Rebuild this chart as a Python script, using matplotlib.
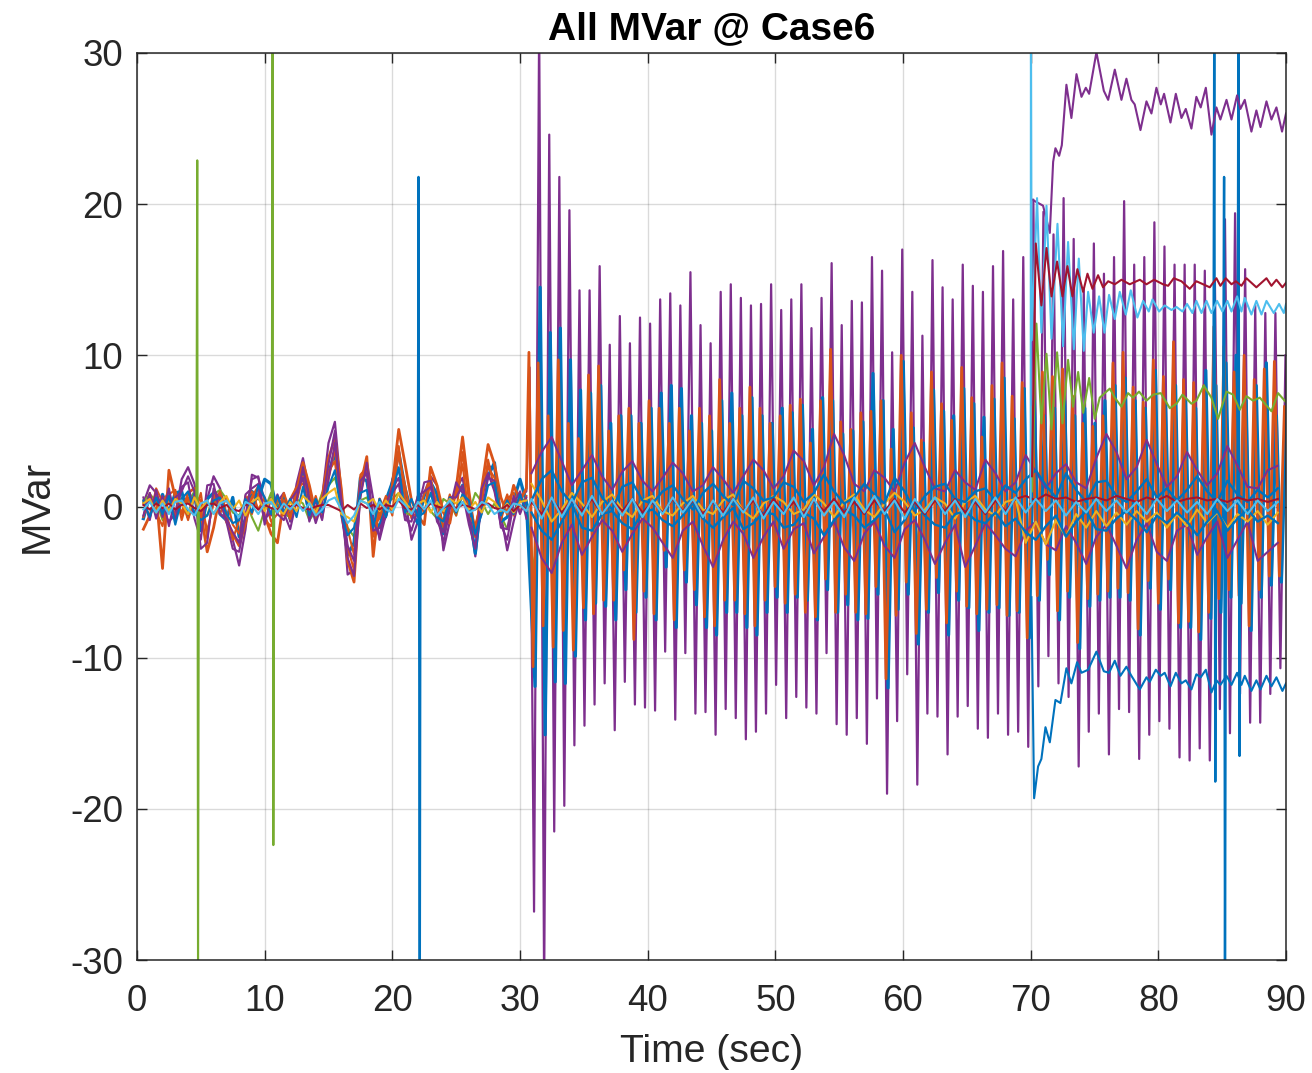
import numpy as np
import matplotlib
matplotlib.use('Agg')
import matplotlib.pyplot as plt

plt.rcParams['font.family'] = ['Liberation Sans', 'DejaVu Sans']
plt.rcParams['axes.unicode_minus'] = False
plt.rcParams['lines.solid_joinstyle'] = 'round'

AZUL = '#0072BD'
NARANJA = '#D95319'
AMARILLO = '#EDB120'
MORADO = '#7E2F8E'
VERDE = '#77AC30'
CELESTE = '#4DBEEE'
ROJO = '#A2142F'

# first 30 s, one value every 0.5 s
t_inicio = np.arange(0.5, 31.0, 0.5)

morado_a = [0.2, 1.4, 0.9, -0.3, -1.0, -0.5, 1.8, 2.6, 1.5, -1.2,
            0.5, 2.0, 1.2, -0.6, -2.2, -3.9, -1.5, 2.1, 1.9, 0.4,
            -0.6, 0.3, 0.9, -1.0, 1.5, 3.2, 1.0, -0.4, 0.6, 4.2,
            5.6, 1.0, -4.5, -4.2, 1.5, 3.0, 0.5, -2.2, -0.5, 1.8,
            2.4, 0.6, -2.2, -1.0, 0.9, 2.0, 1.4, -2.9, -1.0, 1.2,
            1.9, -0.4, -3.3, 0.3, 2.7, 2.5, -0.5, -2.9, -1.0, 0.6,
            1.0]
morado_b = [-0.6, 0.9, -0.8, 0.7, -1.3, 0.6, 1.0, 2.0, 1.0, -2.8,
            -2.4, 1.2, 0.4, -1.0, -2.8, -3.0, -0.6, 1.8, 2.0, -0.8,
            -0.4, 0.8, -0.4, -1.5, 0.4, 2.6, 0.5, -1.1, 0.2, 2.8,
            5.0, -0.4, -3.4, -4.6, 0.6, 2.9, -1.0, -2.0, 0.2, 1.2,
            1.9, -0.5, -1.6, -0.2, 1.6, 1.7, -0.6, -2.4, -0.2, 1.6,
            0.9, -1.2, -2.8, 1.2, 2.2, 1.0, -1.2, -2.2, 0.2, 1.0,
            -0.8]
morado_c = [0.6, -0.9, 1.1, -0.7, 1.2, -1.0, 1.3, 1.6, -0.8, -2.2,
            1.4, 1.5, -0.5, -0.8, -1.7, -2.4, 0.8, 1.2, 1.5, -1.2,
            0.6, -0.5, -0.9, 0.4, 1.0, 1.9, -1.0, 0.4, -0.9, 1.8,
            4.2, 0.5, -2.6, -3.6, 1.7, 2.2, -1.6, -1.4, -0.7, 0.9,
            1.5, -0.9, -1.0, 0.7, 1.0, 1.3, -1.0, -1.7, 0.6, 0.6,
            1.4, -0.8, -1.9, -0.4, 1.9, 1.7, -1.4, -1.5, 0.7, -0.5,
            0.6]
naranja_a = [-1.5, -0.6, 0.8, -4.1, 2.4, 0.6, -0.5, 0.9, 1.2, -0.4,
             -3.0, -1.4, 0.8, -1.0, -1.8, -2.6, -1.1, 0.6, 1.3, -0.6,
             -1.8, -2.4, 0.4, -0.8, 1.0, 2.9, 1.4, -0.5, 0.6, 3.2,
             4.5, 1.2, -3.6, -5.0, 1.4, 3.3, -3.3, 0.5, -0.6, 1.4,
             5.1, 2.8, 0.4, -0.6, -1.2, 2.6, 1.4, -0.4, -1.1, 1.2,
             4.6, 1.0, -2.0, 1.2, 4.1, 2.8, 0.6, -0.5, 1.4, 0.4,
             1.2]
naranja_b = [0.4, -0.8, 1.2, 0.3, 1.0, -0.7, 0.5, -0.9, 0.7, 0.4,
             -1.6, 0.2, 1.0, -0.4, -2.2, -0.9, 0.4, 1.0, -0.2, 0.6,
             -1.0, -0.5, 0.9, -0.3, 0.3, 2.0, -0.6, 0.7, -0.8, 1.8,
             3.8, 0.2, -1.5, -3.2, 2.1, 2.6, -1.2, -0.8, 0.5, 0.8,
             3.4, 1.4, -0.8, 0.7, -0.5, 1.7, 0.2, -1.4, 0.6, 0.7,
             2.8, -0.7, -1.2, 0.3, 3.1, 1.1, -0.9, 0.5, 0.9, -0.4,
             0.7]
naranja_c = [-0.7, 0.9, -0.4, -1.3, 0.8, 1.1, -0.9, 0.6, -0.6, 0.9,
             -2.1, 0.8, -0.5, 0.6, -1.2, -1.8, 0.7, -0.5, 0.9, -0.9,
             -1.3, 0.6, -0.6, 0.5, 1.3, 1.5, 0.8, -0.9, 0.4, 2.3,
             3.0, -0.6, -2.7, -4.2, 0.8, 2.7, -2.0, -0.4, 0.7, -0.6,
             4.0, 0.5, -0.7, -0.4, 0.8, 2.0, -0.5, -0.9, 0.8, -0.6,
             3.6, 0.4, -1.5, 0.8, 2.6, 1.9, -0.4, 0.8, -0.6, 0.9,
             -0.3]
azul_a = [-0.8, 0.7, -0.5, 0.8, -0.4, 0.9, 1.0, -0.7, 0.8, -1.6,
          0.5, 0.9, -0.5, -0.9, 0.6, -2.0, -0.8, 1.0, 0.5, 1.8,
          1.5, -0.3, 0.6, -0.8, 0.8, 2.4, 0.4, -0.6, 0.5, 2.2,
          3.6, 0.3, -3.2, -2.4, 1.9, 1.7, -0.8, -1.4, 0.4, 1.6,
          3.6, 1.2, -0.4, -1.1, 0.7, 1.6, 0.8, -1.8, 0.3, 0.7,
          1.4, -0.3, -3.1, 0.9, 2.0, 2.9, -1.0, -0.7, 0.4, 1.8,
          0.3]
azul_b = [0.4, -0.7, 0.6, -0.5, 0.7, -1.2, 0.5, 1.0, -0.4, -0.9,
          -0.6, 0.4, 0.6, -0.5, -1.1, -0.9, 0.5, -0.4, 1.4, 0.6,
          -0.5, 0.7, -0.4, 0.5, -0.7, 1.3, -0.6, 0.5, -0.4, 1.3,
          2.4, -0.5, -1.9, -1.4, 0.9, 1.1, -1.4, 0.5, -0.7, 0.9,
          2.6, -0.4, 0.5, -0.7, -0.4, 0.9, -0.7, -1.0, 0.6, -0.4,
          0.8, 0.4, -1.8, -0.5, 1.4, 1.6, -0.6, 0.4, -0.5, 0.8,
          -0.4]
verde_a = [0.3, 0.8, 0.4, -0.9, 0.7, -0.8, 0.6, 0.3, 1.0, -0.5,
           -0.6, 0.8, 1.1, 0.5, -0.4, -0.6, 0.4, -0.7, -1.6, -0.2,
           0.9, 0.2, -0.5, -0.7, 0.5, 0.2, -0.9, -0.3, 0.9, 1.4,
           1.9, 0.4, -1.4, -2.0, 0.4, 0.6, -0.4, -0.6, 0.3, 0.5,
           0.9, -0.4, -0.6, 0.4, 0.5, -0.3, -0.8, 0.5, 0.2, -0.6,
           0.8, -0.4, 0.9, 0.3, -0.5, 0.2, -0.6, -1.5, 0.2, 0.5,
           0.4]
amarillo_a = [0.2, 0.5, -0.4, 0.4, -0.3, 0.5, 0.2, -0.5, 0.6, -0.2,
              0.4, -0.5, 0.3, 0.7, -0.2, 0.4, -0.6, 0.3, 0.6, -0.3,
              0.5, -0.2, -0.5, 0.3, -0.3, 0.7, 0.3, -0.4, 0.5, 0.9,
              1.2, -0.5, -0.7, -1.0, 0.4, 0.2, 0.5, -0.3, 0.4, -0.2,
              0.9, 0.3, -0.3, 0.2, 0.4, -0.4, 0.3, -0.3, 0.5, 0.2,
              0.6, -0.2, 0.3, -0.4, 0.6, 0.3, -0.3, 0.2, -0.4, 0.3,
              0.4]
celeste_a = [-0.2, 0.3, -0.4, 0.2, -0.5, 0.3, 0.4, -0.2, -0.6, 0.2,
             0.4, -0.5, 0.2, 0.4, -0.2, -0.7, 0.3, 0.1, -0.5, 0.2,
             0.3, -0.4, 0.2, -0.2, 0.3, -0.3, 0.2, -0.6, -0.2, 0.4,
             0.6, -0.2, -1.1, -0.6, 0.4, 0.2, -0.5, 0.3, -0.2, -0.4,
             0.5, 0.1, -0.5, 0.3, -0.2, 0.4, -0.6, -0.1, 0.4, -0.3,
             0.3, -0.4, -0.2, 0.3, 0.1, -0.5, -0.2, -0.4, 0.2, 0.1,
             -0.3]
rojo_a = [0.1, -0.2, 0.2, -0.1, 0.2, -0.2, 0.1, 0.2, -0.1, -0.3,
          0.1, 0.2, -0.1, 0.1, -0.2, -0.3, 0.1, 0.2, -0.2, 0.1,
          -0.1, -0.2, 0.1, 0.0, 0.1, -0.1, -0.2, 0.0, 0.1, 0.1,
          -0.1, -0.3, 0.1, -0.2, 0.2, -0.1, 0.1, -0.2, 0.1, 0.0,
          0.4, -0.1, -0.2, 0.1, -0.2, 0.2, 0.0, -0.1, 0.1, -0.1,
          0.1, 0.0, -0.2, 0.1, 0.2, -0.1, -0.2, 0.1, -0.3, 0.1,
          -0.2]

# swing after 31 s, one peak and one trough each cycle of 0.79 s
periodo = 0.79
morado_picos = [32.0, 24.6, 21.8, 19.6, 14.3, 14.3, 15.9, 10.7, 12.6, 10.8, 12.5, 12.1, 13.7, 14.1, 13.3,
                15.5, 12.0, 10.8, 14.2, 14.7, 13.8, 13.3, 13.4, 14.7, 13.0, 13.7, 14.7, 11.8, 13.8, 16.1,
                12.0, 13.6, 13.5, 16.5, 15.6, 10.2, 17.0, 14.2, 11.3, 16.3, 14.5, 13.7, 16.0, 14.6, 14.2,
                15.9, 16.9, 13.7, 16.5, 20.3, 19.5, 18.0, 20.4, 17.7, 14.4, 17.4, 15.4, 16.5, 20.2, 16.0,
                16.5, 18.8, 17.2, 16.0, 16.0, 16.0, 15.6, 15.0, 19.0, 19.4, 15.7, 13.3, 12.8, 12.8, 10.0]
morado_valles = [-26.8, -32.0, -21.5, -19.8, -15.8, -14.5, -13.1, -11.7, -14.8, -11.6, -13.1, -13.3, -13.5, -9.6, -14.1,
                 -9.7, -13.7, -13.6, -15.1, -13.4, -14.0, -15.4, -14.9, -13.7, -11.8, -14.0, -12.6, -13.3, -13.7, -9.7,
                 -14.4, -15.1, -14.0, -15.7, -12.7, -19.0, -14.2, -11.1, -18.4, -13.7, -13.9, -16.4, -13.9, -13.2, -14.7,
                 -15.3, -13.7, -15.1, -14.9, -15.9, -11.9, -9.9, -11.7, -12.6, -17.2, -14.9, -13.7, -16.4, -13.4, -13.6,
                 -16.7, -15.1, -14.2, -14.7, -16.6, -16.8, -16.0, -16.8, -13.4, -15.0, -12.4, -14.3, -14.3, -12.4, -10.7]
naranja_picos = [9.5, 6.0, 9.7, 5.5, 4.5, 8.7, 9.3, 5.0, 6.0, 6.5, 5.5, 7.0, 6.5, 5.5, 6.5,
                 5.0, 6.5, 6.0, 8.4, 5.5, 6.5, 7.9, 6.5, 5.5, 6.0, 6.7, 7.1, 4.2, 7.0, 10.4,
                 5.6, 5.1, 6.2, 6.3, 7.0, 3.8, 10.0, 6.2, 4.4, 8.9, 6.8, 5.7, 9.2, 7.2, 4.6,
                 8.0, 9.5, 7.3, 8.2, 6.6, 8.9, 8.6, 9.1, 7.3, 5.5, 5.3, 6.0, 9.5, 10.2, 7.9,
                 6.9, 9.7, 8.6, 10.9, 8.4, 8.2, 8.0, 11.9, 10.6, 8.9, 10.0, 8.4, 9.1, 9.6, 6.6]
naranja_valles = [-10.6, -7.9, -9.3, -8.2, -9.5, -6.7, -7.1, -6.2, -6.2, -4.2, -8.8, -5.6, -7.1, -2.9, -7.5,
                  -4.2, -5.5, -7.3, -7.9, -6.2, -6.2, -7.1, -7.9, -6.2, -5.3, -6.4, -5.8, -7.0, -7.3, -4.8,
                  -7.0, -5.8, -7.0, -7.1, -5.3, -11.4, -7.2, -5.0, -8.4, -6.8, -4.7, -7.7, -5.6, -6.6, -7.1,
                  -6.8, -6.5, -7.2, -6.9, -8.7, -5.9, -3.5, -6.9, -5.6, -9.0, -6.1, -5.8, -5.6, -5.4, -5.7,
                  -8.1, -4.9, -6.4, -4.8, -7.7, -7.6, -8.3, -7.0, -6.1, -5.5, -5.9, -7.9, -5.5, -4.6, -4.6]
azul_picos = [14.5, 11.5, 11.8, 9.7, 7.7, 7.5, 8.0, 5.5, 6.0, 6.0, 5.5, 6.5, 7.5, 8.0, 7.8,
              6.0, 5.5, 5.0, 7.0, 7.5, 6.0, 7.2, 6.0, 5.5, 6.5, 6.2, 6.7, 5.1, 7.2, 7.0,
              4.8, 5.0, 5.6, 8.8, 7.0, 5.1, 9.6, 5.2, 4.2, 7.7, 6.3, 6.0, 7.8, 6.8, 5.9,
              7.1, 8.5, 5.8, 7.8, 7.0, 6.0, 6.5, 7.0, 6.0, 6.5, 5.5, 7.0, 8.0, 8.5, 7.0,
              6.5, 9.0, 7.0, 8.0, 7.0, 6.5, 9.0, 8.0, 9.5, 10.0, 7.0, 8.0, 9.5, 6.0, 6.5]
azul_valles = [-11.9, -15.1, -11.6, -11.7, -9.9, -7.5, -6.4, -6.6, -7.5, -5.5, -7.0, -6.0, -7.5, -4.0, -8.0,
               -5.0, -6.5, -8.0, -8.5, -7.0, -7.0, -8.0, -8.5, -7.0, -6.0, -7.0, -6.0, -6.2, -7.5, -5.5,
               -7.0, -6.5, -7.5, -7.4, -5.8, -12.0, -6.8, -5.8, -9.1, -7.0, -5.7, -8.5, -6.2, -6.7, -8.2,
               -7.0, -6.7, -7.2, -7.0, -8.7, -6.2, -4.5, -7.5, -6.0, -9.4, -6.6, -6.2, -6.0, -6.0, -6.2,
               -8.5, -5.4, -6.8, -5.5, -8.0, -8.0, -8.8, -7.4, -7.0, -6.0, -6.4, -8.2, -6.0, -5.2, -5.0]
verde_picos = [5.8, 5.0, 4.4, 4.6, 3.8, 3.2, 3.6, 3.0, 3.4, 2.8, 3.2, 2.6, 3.4, 3.0, 2.7,
               3.0, 2.6, 3.2, 3.6, 3.8, 2.8, 3.2, 3.0, 3.7, 2.8, 3.1, 3.5, 2.9, 3.4, 3.8,
               3.0, 2.8, 3.2, 3.6, 3.4, 2.9, 4.0, 3.1, 2.7, 3.6, 3.2, 2.9, 3.7, 3.3, 3.0,
               3.4, 3.9, 3.2, 3.6, 4.1, 3.6, 3.9, 3.4, 3.0, 3.4, 2.9, 3.3, 3.8, 3.5, 3.2,
               3.0, 3.7, 3.4, 3.8, 3.2, 3.0, 3.4, 3.9, 3.6, 3.3, 3.7, 3.2, 3.4, 3.6, 3.0]
verde_valles = [-4.6, -4.0, -3.6, -3.4, -3.0, -2.6, -2.9, -2.4, -2.8, -2.3, -2.7, -2.2, -2.6, -2.0, -2.8,
                -2.1, -2.5, -2.7, -3.0, -2.4, -2.6, -3.0, -2.8, -2.4, -2.2, -2.6, -2.3, -2.4, -2.9, -2.1,
                -2.7, -2.4, -2.8, -2.9, -2.3, -4.0, -2.7, -2.2, -3.2, -2.6, -2.2, -3.0, -2.4, -2.6, -2.9,
                -2.7, -2.5, -2.8, -2.6, -3.1, -2.4, -2.1, -2.7, -2.3, -3.2, -2.5, -2.4, -2.3, -2.3, -2.4,
                -3.0, -2.2, -2.5, -2.2, -2.9, -2.9, -3.1, -2.7, -2.5, -2.3, -2.4, -2.9, -2.3, -2.1, -2.0]

# slower band around zero after 31 s, one value every 0.79 s
morado_banda_alta = [2.2, 3.6, 4.6, 3.0, 1.4, 2.4, 3.4, 2.0, 1.1, 2.3, 3.0, 1.7, 1.0, 1.9, 2.9,
                     2.2, 1.0, 1.4, 2.6, 1.8, 0.9, 2.0, 3.1, 2.4, 1.2, 2.0, 3.7, 3.0, 1.4, 2.6,
                     4.8, 3.4, 1.5, 1.0, 2.4, 1.9, 1.0, 2.9, 4.2, 2.6, 1.2, 1.0, 2.4, 1.6, 1.1,
                     3.1, 2.2, 1.0, 1.6, 3.4, 2.3, 1.2, 2.2, 2.8, 1.6, 1.2, 3.2, 4.8, 3.6, 1.8,
                     2.6, 4.4, 2.8, 1.3, 2.0, 3.6, 2.4, 1.4, 2.2, 4.0, 2.7, 1.3, 1.2, 2.4, 2.7]
morado_banda_baja = [-1.4, -3.4, -4.4, -2.4, -1.2, -3.2, -2.0, -0.9, -1.6, -3.0, -1.8, -0.8, -1.4, -2.4, -3.4,
                     -1.6, -1.0, -2.6, -4.0, -2.2, -1.0, -1.8, -3.4, -2.0, -1.0, -2.8, -1.5, -1.1, -3.1, -2.0,
                     -1.0, -2.7, -3.6, -1.8, -1.0, -2.6, -3.4, -1.5, -0.9, -2.2, -3.8, -2.4, -1.2, -4.0, -2.6,
                     -1.1, -1.9, -2.8, -3.3, -1.6, -1.0, -2.5, -2.9, -1.3, -2.4, -3.8, -2.0, -1.2, -2.6, -4.1,
                     -2.2, -1.1, -3.0, -3.6, -1.6, -1.2, -3.2, -2.0, -1.0, -3.4, -2.2, -1.0, -3.6, -3.0, -2.4]
azul_banda_alta = [0.4, 1.8, 2.4, 1.0, 0.2, 1.6, 1.9, 0.6, -0.2, 1.3, 1.6, 0.4, 0.2, 1.0, 1.4,
                   0.5, -0.2, 0.9, 1.5, 0.7, 0.1, 1.7, 1.2, 0.4, 0.6, 1.6, 1.3, 0.3, 0.9, 2.1,
                   1.0, 0.2, 0.6, 1.5, 0.8, 0.2, 1.9, 1.0, -0.3, 0.7, 1.3, 1.5, 0.5, 0.3, 1.0,
                   1.2, 0.4, 1.4, 0.9, 1.8, 2.4, 1.4, 0.6, 2.2, 1.1, 0.3, 1.6, 1.7, 0.7, 0.3,
                   1.0, 1.8, 0.6, 1.2, 0.4, 1.1, 2.0, 1.0, 0.3, 1.7, 0.8, 0.3, 1.1, 0.6, 1.2]
azul_banda_baja = [-0.4, -1.6, -2.2, -1.0, 0.2, -1.4, -1.6, -0.5, -0.3, -1.1, -1.5, -0.4, -0.2, -0.9, -1.3,
                   -0.6, 0.2, -0.8, -1.4, -0.7, -0.1, -1.5, -1.1, -0.4, -0.5, -1.4, -1.2, -0.4, -0.8, -1.9,
                   -0.9, -0.2, -0.6, -1.4, -0.9, -0.2, -1.7, -0.9, 0.3, -0.6, -1.2, -1.4, -0.5, -0.3, -0.9,
                   -1.1, -0.4, -1.3, -0.8, -1.7, -2.2, -1.3, -0.6, -2.0, -1.0, -0.3, -1.5, -1.6, -0.8, -0.3,
                   -0.9, -1.7, -0.6, -1.1, -0.4, -1.0, -1.9, -1.0, -0.3, -1.6, -0.8, -0.2, -1.0, -0.6, -1.1]
celeste_banda = [0.5, -0.8, 0.6, -0.7, 0.5, -0.6, 0.7, -0.5, 0.4, -0.6, 0.5, -0.7, 0.4, -0.5, 0.6,
                 -0.4, 0.5, -0.7, 0.4, -0.6, 0.5, -0.4, 0.6, -0.8, 0.3, -0.5, 0.6, -0.7, 0.5, -0.6,
                 0.3, -0.7, 0.6, -0.4, 0.7, -0.5, 0.4, -0.8, 0.5, -0.4, 0.6, -0.5, 0.4, -0.7, 0.5,
                 -0.4, 0.6, -0.5, 0.6, -0.4, 0.5, -0.3, 0.4, -0.6, 0.3, -0.4, 0.5, -0.3, 0.4, -0.4,
                 0.3, -0.5, 0.5, -0.3, 0.4, -0.4, 0.3, -0.5, 0.5, -0.3, 0.4, -0.5, 0.4, -0.3, 0.3]
rojo_banda = [0.3, -0.5, 0.5, -0.4, 0.4, -0.3, 0.5, -0.5, 0.4, -0.3, 0.5, -0.4, 0.3, -0.4, 0.5,
              -0.3, 0.4, -0.5, 0.3, -0.4, 0.5, -0.3, 0.4, -0.6, 0.5, -0.4, 0.3, -0.5, 0.4, -0.3,
              0.5, -0.4, 0.3, -0.5, 0.4, -0.3, 0.5, -0.4, 0.3, -0.5, 0.4, -0.3, 0.5, -0.4, 0.3,
              -0.5, 0.4, -0.3, 0.5, 0.7, 0.4, 0.8, 0.5, 0.6, 0.3, 0.5, 0.6, 0.4, 0.7, 0.5,
              0.3, 0.6, 0.4, 0.7, 0.3, 0.5, 0.6, 0.4, 0.5, 0.3, 0.6, 0.4, 0.5, 0.3, 0.5]
amarillo_banda = [1.5, 0.4, -1.0, -0.2, 0.9, 0.2, -0.7, 0.3, 0.8, -0.2, -0.7, 0.4, 0.7, -0.3, -0.6,
                  0.2, 0.7, -0.2, -0.5, 0.4, 0.8, -0.3, -0.8, 0.2, 0.7, 0.3, -0.5, -0.2, 0.8, 0.2,
                  -0.7, 0.3, 0.8, -0.2, -0.7, 0.2, 0.9, 0.3, -0.6, -0.2, 0.6, 0.2, -0.8, 0.3, 0.7,
                  -0.2, -0.6, 0.3, 0.5, -2.4, -1.0, -2.5, -0.9, -2.0, -0.5, -1.4, -0.3, -1.3, -0.4, -1.2,
                  -0.3, -1.0, -0.4, -1.4, -0.5, -1.3, -0.2, -1.1, -0.4, -1.4, -0.5, -1.0, -0.3, -1.2, -0.4]

# traces that change level at 70 s
t_morado_alto = [70.11, 70.97, 71.5, 71.76, 71.94, 72.23, 72.44, 72.8, 73.19, 73.59, 73.98, 74.32, 74.58, 75.15,
                 75.73, 76.07, 76.59, 77.11, 77.5, 77.89, 78.15, 78.6, 79.07, 79.46, 79.85, 80.19, 80.45, 80.95,
                 81.37, 81.81, 82.15, 82.59, 82.98, 83.32, 83.72, 84.16, 84.55, 84.86, 85.34, 85.73, 86.17, 86.43,
                 86.77, 87.29, 87.68, 88.0, 88.47, 88.86, 89.25, 89.69, 90.0]
morado_alto = [20.3, 19.9, 18.1, 22.8, 23.7, 23.2, 23.9, 27.9, 25.7, 28.6, 27.1, 27.7, 27.3, 30.05,
               27.5, 26.9, 28.9, 26.9, 28.3, 26.9, 26.6, 24.9, 26.8, 26.0, 27.7, 26.6, 27.3, 25.4,
               27.3, 25.7, 26.3, 25.0, 27.1, 26.4, 27.7, 24.6, 26.4, 25.6, 26.9, 25.6, 27.2, 26.3,
               26.9, 24.8, 26.2, 25.1, 26.8, 25.6, 26.4, 24.8, 26.0]
t_azul_bajo = [70.06, 70.27, 70.58, 70.84, 71.16, 71.5, 71.94, 72.33, 72.8, 73.19, 73.64, 73.98, 74.5, 75.15, 75.73,
               76.14, 76.59, 77.03, 77.5, 77.89, 78.55, 79.07, 79.33, 79.8, 80.19, 80.5, 80.95, 81.37, 81.81,
               82.15, 82.59, 82.98, 83.32, 83.72, 84.16, 84.55, 84.86, 85.34, 85.73, 86.17, 86.51, 86.77, 87.29,
               87.68, 88.0, 88.47, 88.86, 89.25, 89.72, 90.0]
azul_bajo = [-6.0, -19.3, -17.2, -16.7, -14.6, -15.6, -12.8, -13.0, -10.7, -11.7, -10.3, -11.0, -10.8, -9.6, -10.9,
             -11.0, -10.2, -11.2, -10.6, -11.2, -12.1, -11.3, -11.6, -10.8, -11.2, -11.0, -11.9, -11.0, -11.7,
             -11.5, -12.1, -11.1, -11.3, -10.8, -12.3, -11.5, -11.8, -11.2, -11.8, -11.0, -11.8, -11.2, -12.2,
             -11.5, -12.1, -11.2, -11.9, -11.3, -12.2, -11.7]
t_rojo_alto = [70.11, 70.4, 70.84, 71.24, 71.63, 72.07, 72.49, 72.88, 73.27, 73.66, 74.11, 74.45, 74.84, 75.28,
               75.67, 76.07, 76.59, 77.11, 77.76, 78.55, 79.07, 79.67, 80.37, 80.77, 81.21, 81.81, 82.46, 82.98,
               83.51, 84.03, 84.55, 84.86, 85.28, 85.73, 86.07, 86.51, 86.9, 87.68, 88.47, 88.86, 89.25, 89.72, 90.0]
rojo_alto = [2.0, 17.4, 13.3, 17.1, 13.9, 16.2, 13.9, 15.9, 13.9, 15.7, 14.2, 15.4, 14.4, 15.3,
             14.5, 14.9, 14.7, 15.0, 14.7, 15.0, 14.7, 15.0, 14.7, 14.6, 15.1, 14.9, 14.4, 14.9,
             14.7, 14.5, 15.1, 14.6, 15.1, 14.7, 14.9, 14.6, 15.1, 14.5, 15.1, 14.6, 15.0, 14.5, 14.8]
t_celeste_alto = [70.0, 70.02, 70.08, 70.5, 70.84, 71.24, 71.63, 72.1, 72.54, 72.93, 73.38, 73.77, 74.16, 74.5, 74.94,
                  75.36, 75.78, 76.14, 76.59, 76.98, 77.45, 77.84, 78.36, 78.81, 79.25, 79.54, 80.06, 80.5, 81.03,
                  81.42, 81.89, 82.25, 82.67, 82.98, 83.38, 83.77, 84.16, 84.6, 85.02, 85.41, 85.73, 86.17, 86.51,
                  86.77, 87.29, 87.68, 88.08, 88.47, 89.04, 89.46, 89.83, 90.0]
celeste_alto = [0.3, 32.0, 11.0, 20.4, 11.5, 19.9, 11.1, 18.7, 10.6, 17.5, 10.4, 16.4, 10.3, 14.2, 11.5,
                13.9, 11.5, 14.0, 12.4, 14.2, 12.7, 14.3, 12.5, 13.6, 12.9, 13.7, 12.9, 13.3, 13.0,
                13.2, 12.9, 13.4, 12.8, 13.6, 12.8, 13.6, 12.8, 13.6, 12.9, 13.6, 12.9, 13.9, 12.9,
                13.8, 12.7, 13.6, 12.7, 13.6, 12.8, 13.4, 12.8, 13.4]
t_verde_alto = [70.11, 70.45, 70.84, 71.24, 71.63, 72.07, 72.49, 72.93, 73.32, 73.72, 74.11, 74.58, 75.02, 75.41,
                75.8, 76.2, 76.59, 77.11, 77.63, 78.02, 78.49, 79.07, 79.59, 80.19, 80.9, 81.42, 81.89, 82.59,
                82.98, 83.56, 84.16, 84.68, 85.34, 85.86, 86.38, 86.9, 87.42, 87.95, 88.86, 89.38, 90.0]
verde_alto = [1.0, 12.1, 5.5, 10.1, 5.1, 10.2, 5.5, 9.7, 6.6, 8.9, 6.2, 8.5, 5.8, 7.2,
              7.5, 7.8, 7.2, 6.6, 7.5, 7.2, 7.6, 7.0, 7.4, 7.5, 6.5, 6.8, 7.4, 6.8,
              7.0, 8.0, 7.2, 5.8, 7.6, 7.4, 6.4, 7.3, 7.0, 7.2, 6.3, 7.5, 6.9]

# isolated spikes, time then value
pico_verde_1 = ([4.65, 4.72, 4.78, 4.85], [0.2, 22.9, -32.0, 0.1])
pico_verde_2 = ([10.55, 10.62, 10.68, 10.75], [0.2, 32.0, -22.4, -0.1])
pico_azul_1 = ([22.0, 22.05, 22.15, 22.2], [0.1, 21.8, -32.0, 0.0])
pico_azul_2 = ([84.3, 84.38, 84.46, 84.52], [0.3, 32.0, -18.2, -0.2])
pico_azul_3 = ([85.05, 85.15, 85.22, 85.3], [0.2, 21.8, -32.0, 0.1])
pico_azul_4 = ([86.2, 86.27, 86.36, 86.42], [0.2, 32.0, -16.5, 0.0])

titulo = 'All MVar @ Case6'
etiqueta_x = 'Time (sec)'
etiqueta_y = 'MVar'
ticks_x = [0, 10, 20, 30, 40, 50, 60, 70, 80, 90]
ticks_y = [-30, -20, -10, 0, 10, 20, 30]


def onda(picos, valles, desfase=0.0):
	# trough, peak, trough, peak...
	t_valles = 31.1 + desfase + periodo * np.arange(len(valles))
	t_picos = 31.5 + desfase + periodo * np.arange(len(picos))
	t = np.empty(len(valles) * 2)
	v = np.empty(len(valles) * 2)
	t[0::2] = t_valles
	t[1::2] = t_picos
	v[0::2] = valles
	v[1::2] = picos
	return t, v


fig = plt.figure(figsize=(13.12, 10.73), dpi=100)
ax = fig.add_axes([137 / 1312, (1073 - 960) / 1073, 1149 / 1312, 907 / 1073])

grosor = 1.5
t_banda = 30.9 + periodo * np.arange(75)

# spikes and broad swings first, the band around zero ends up on top
t_m, v_m = onda(morado_picos, morado_valles)
ax.plot(np.r_[t_inicio, 30.75, t_m], np.r_[morado_a, 9.2, v_m], color=MORADO, lw=grosor + 0.1)
t_v, v_v = onda(verde_picos, verde_valles)
ax.plot(np.r_[t_inicio, t_v], np.r_[verde_a, v_v], color=VERDE, lw=grosor)
t_a, v_a = onda(azul_picos, azul_valles, 0.08)
t_n, v_n = onda(naranja_picos, naranja_valles, -0.08)
ax.plot(np.r_[t_inicio, t_a], np.r_[azul_a, v_a], color=AZUL, lw=grosor + 0.8)
ax.plot(np.r_[t_inicio, 30.7, t_n], np.r_[naranja_a, 10.2, v_n], color=NARANJA, lw=grosor + 0.5)
ax.plot(t_inicio, naranja_b, color=NARANJA, lw=grosor)
ax.plot(t_inicio, naranja_c, color=NARANJA, lw=grosor)
ax.plot(t_inicio, morado_b, color=MORADO, lw=grosor)
ax.plot(t_inicio, morado_c, color=MORADO, lw=grosor)
ax.plot(t_inicio, azul_b, color=AZUL, lw=grosor)
for pico in (pico_verde_1, pico_verde_2):
	ax.plot(pico[0], pico[1], color=VERDE, lw=1.5)
for pico in (pico_azul_1, pico_azul_2, pico_azul_3, pico_azul_4):
	ax.plot(pico[0], pico[1], color=AZUL, lw=1.7)

ax.plot(t_banda, morado_banda_alta, color=MORADO, lw=grosor)
ax.plot(t_banda, morado_banda_baja, color=MORADO, lw=grosor)
ax.plot(t_banda, amarillo_banda, color=AMARILLO, lw=grosor)
ax.plot(t_inicio, amarillo_a, color=AMARILLO, lw=grosor)
ax.plot(t_banda, azul_banda_alta, color=AZUL, lw=grosor + 0.2)
ax.plot(t_banda, azul_banda_baja, color=AZUL, lw=grosor + 0.2)
ax.plot(np.r_[t_inicio, t_banda], np.r_[rojo_a, rojo_banda], color=ROJO, lw=grosor)
ax.plot(np.r_[t_inicio, t_banda], np.r_[celeste_a, celeste_banda], color=CELESTE, lw=grosor)

ax.plot(t_morado_alto, morado_alto, color=MORADO, lw=grosor)
ax.plot(t_azul_bajo, azul_bajo, color=AZUL, lw=grosor)
ax.plot(t_verde_alto, verde_alto, color=VERDE, lw=grosor)
ax.plot(t_celeste_alto, celeste_alto, color=CELESTE, lw=grosor)
ax.plot(t_rojo_alto, rojo_alto, color=ROJO, lw=grosor)

ax.set_xlim(0, 90)
ax.set_ylim(-30, 30)
ax.set_xticks(ticks_x)
ax.set_yticks(ticks_y)
ax.tick_params(direction='in', length=7.5, width=1.0, top=True, right=True, color='#262626',
		labelcolor='#262626', labelsize=26.5)
ax.tick_params(axis='x', pad=17)
ax.tick_params(axis='y', pad=10)
ax.grid(True, color='#262626', alpha=0.17, lw=1.0)
ax.set_axisbelow(True)
for lado in ax.spines.values():
	lado.set_linewidth(1.1)
	lado.set_color('#262626')
	lado.set_zorder(10)

ax.set_title(titulo, fontsize=28, fontweight='bold', color='black', pad=10)
ax.set_xlabel(etiqueta_x, fontsize=28.2, color='#262626', labelpad=11)
ax.set_ylabel(etiqueta_y, fontsize=29, color='#262626', labelpad=10)

fig.savefig('out.png', dpi=100)
